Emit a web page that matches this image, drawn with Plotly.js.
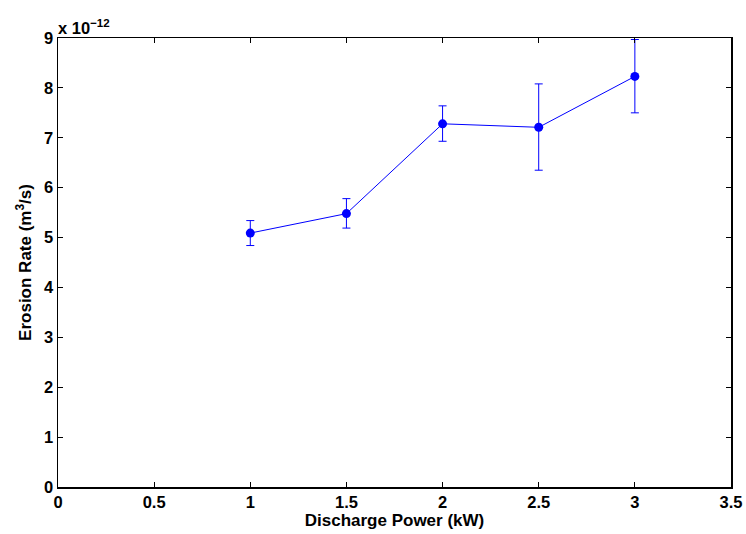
<!DOCTYPE html>
<html>
<head>
<meta charset="utf-8">
<script src="https://cdn.plot.ly/plotly-3.0.1.min.js"></script>
<style>html,body{margin:0;padding:0;background:#fff;}#chart{width:746px;height:534px;}</style>
</head>
<body>
<div id="chart"></div>
<script>
// Discharge power (kW)
var power = [1, 1.5, 2, 2.5, 3];
// Erosion rate, in units of 1e-12 m^3/s
var erosionRate = [5.09, 5.48, 7.28, 7.21, 8.23];
// Error bar half-widths, in units of 1e-12 m^3/s
var errPlus = [0.25, 0.30, 0.36, 0.87, 0.74];
var errMinus = [0.25, 0.29, 0.35, 0.86, 0.73];
var xTicks = [0, 0.5, 1, 1.5, 2, 2.5, 3, 3.5];
var yTicks = [0, 1, 2, 3, 4, 5, 6, 7, 8, 9];

var tickFont = {family: 'Liberation Sans, Arial, sans-serif', size: 16.5, color: '#000', weight: 'bold'};
var titleFont = {family: 'Liberation Sans, Arial, sans-serif', size: 17, color: '#000', weight: 'bold'};

var trace = {
  x: power,
  y: erosionRate,
  type: 'scatter',
  mode: 'lines+markers',
  line: {color: '#0000ff', width: 1},
  marker: {color: '#0000ff', size: 9},
  error_y: {type: 'data', symmetric: false, array: errPlus, arrayminus: errMinus,
            color: '#0000ff', thickness: 1, width: 4},
  cliponaxis: false,
  showlegend: false
};

var layout = {
  width: 746, height: 534,
  margin: {l: 57.5, r: 14.5, t: 37.5, b: 47.3},
  paper_bgcolor: '#fff', plot_bgcolor: '#fff',
  font: tickFont,
  xaxis: {
    range: [0, 3.5], tickvals: xTicks, ticktext: xTicks.map(String),
    ticks: 'inside', ticklen: 5, tickwidth: 1, tickcolor: '#000',
    showline: true, linecolor: '#000', linewidth: 1.5, mirror: 'ticks',
    showgrid: false, zeroline: false, tickfont: tickFont,
    title: {text: 'Discharge Power (kW)', font: titleFont, standoff: 2}
  },
  yaxis: {
    range: [0, 9], tickvals: yTicks, ticktext: yTicks.map(String),
    ticks: 'inside', ticklen: 5, tickwidth: 1, tickcolor: '#000',
    showline: true, linecolor: '#000', linewidth: 1.5, mirror: 'ticks',
    showgrid: false, zeroline: false, tickfont: tickFont,
    title: {text: 'Erosion Rate (m<sup>3</sup>/s)', font: titleFont, standoff: 8}
  },
  annotations: [{
    xref: 'paper', yref: 'paper', x: 0, y: 1, xanchor: 'left', yanchor: 'bottom',
    xshift: -2, yshift: -1,
    text: 'x 10<sup>\u221212</sup>', showarrow: false, font: tickFont
  }]
};

Plotly.newPlot('chart', [trace], layout, {displayModeBar: false, staticPlot: true});
</script>
</body>
</html>
